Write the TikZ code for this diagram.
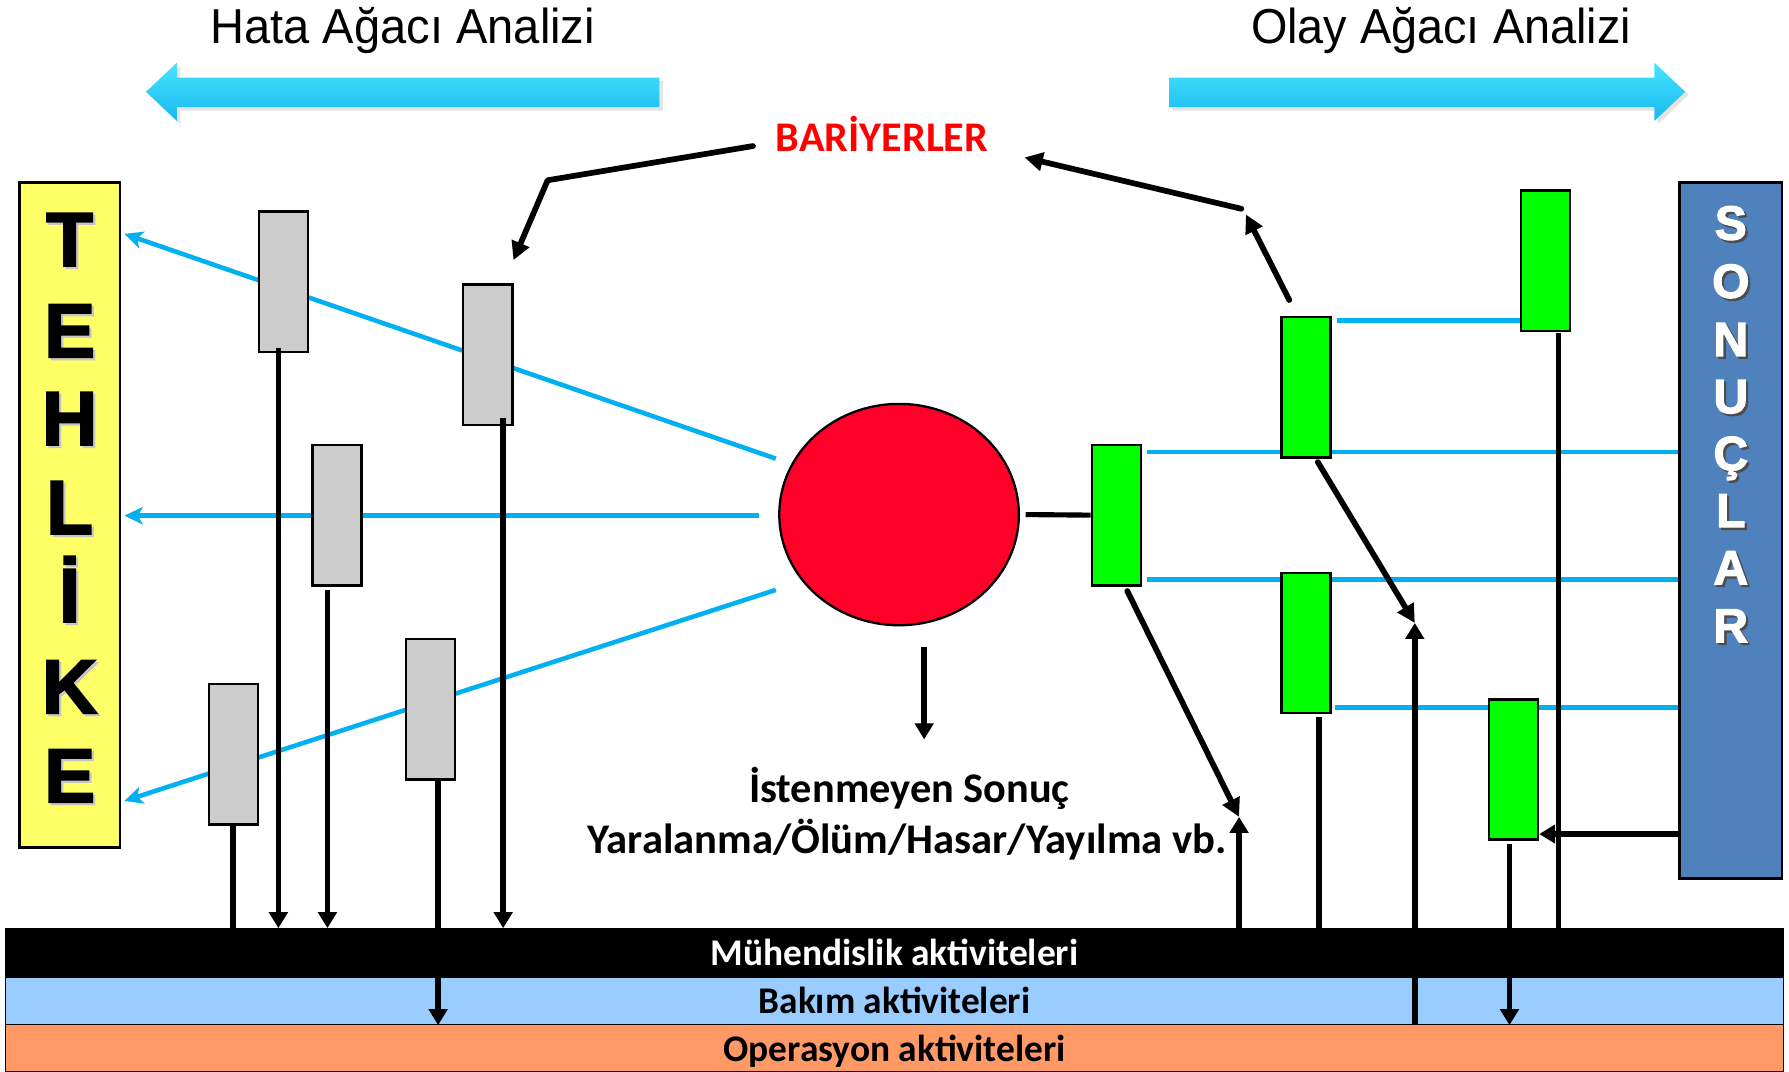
\documentclass[tikz,border=0pt]{standalone}
\usepackage{fontspec}
\usepackage{graphicx}
\usetikzlibrary{arrows.meta,shapes.geometric}
\newfontfamily\arialf{Liberation Sans}
\newfontfamily\blackf[BoldFeatures={FakeBold=2.5}]{Liberation Sans}
\newfontfamily\calf{Carlito}
\newcommand\fitw[2]{\resizebox{#1}{\height}{#2}}
\definecolor{lineblue}{HTML}{00B0F0}
\definecolor{boxgray}{HTML}{CCCCCC}
\definecolor{boxgreen}{HTML}{00FF00}
\definecolor{hazyellow}{HTML}{FFFF66}
\definecolor{eventred}{HTML}{FF0029}
\definecolor{sonucblue}{HTML}{4F81BD}
\definecolor{bakblue}{HTML}{99CCFF}
\definecolor{opsorange}{HTML}{FF9966}
\definecolor{arrlight}{HTML}{45E4FF}
\definecolor{arrmid}{HTML}{0AAEE6}
\definecolor{arrdark}{HTML}{1AB8EE}
\definecolor{barred}{HTML}{FF0000}
\begin{document}
\begin{tikzpicture}[x=1pt,y=-1pt,
  gbox/.style={draw=black,line width=2.2pt,fill=boxgray,minimum width=43pt,minimum height=123pt,inner sep=0pt},
  grbox/.style={draw=black,line width=2.2pt,fill=boxgreen,minimum width=43pt,minimum height=123pt,inner sep=0pt},
  band/.style={draw=black,line width=1pt,minimum width=1558pt,inner sep=0pt},
  bline/.style={draw=lineblue,line width=4pt},
  btip/.style={-{Stealth[length=16pt,width=15pt,inset=4pt]}},
  blk/.style={draw=black,line width=5pt},
  blkd/.style={draw=black,line width=5pt,line cap=round},
  ktip/.style={-{Triangle[length=14pt,width=16pt]}},
  kbig/.style={-{Triangle[length=16pt,width=16pt]}},
  bigarrow/.style={shading=axis,top color=arrlight,middle color=arrmid,bottom color=arrdark},
  haz/.style={anchor=base,inner sep=0pt,font=\blackf\bfseries\fontsize{67}{67}\selectfont},
  son/.style={anchor=base,inner sep=0pt,text=white,font=\blackf\bfseries\fontsize{42}{42}\selectfont}
]
\useasboundingbox (0,0) rectangle (1568,939);
\fill[white] (0,0) rectangle (1568,939);

% big analysis arrows
\fill[gray!35,opacity=0.6] (581,71) -- (158,71) -- (158,58) -- (131,83) -- (158,109) -- (158,97) -- (581,97) -- cycle;
\path[bigarrow] (578,68) -- (155,68) -- (155,55) -- (128,80.5) -- (155,106) -- (155,94) -- (578,94) -- cycle;
\fill[gray!35,opacity=0.6] (1028,71) -- (1453,71) -- (1453,58) -- (1480,83) -- (1453,109) -- (1453,97) -- (1028,97) -- cycle;
\path[bigarrow] (1025,68) -- (1450,68) -- (1450,55) -- (1477,80.5) -- (1450,106) -- (1450,94) -- (1025,94) -- cycle;

\node[anchor=base,inner sep=0pt] (thata) at (353,38) {\fitw{337pt}{\arialf\fontsize{43}{43}\selectfont Hata Ağacı Analizi}};
\node[anchor=base,inner sep=0pt] (tolay) at (1263,38) {\fitw{333pt}{\arialf\fontsize{43}{43}\selectfont Olay Ağacı Analizi}};

% named points
\coordinate (c1) at (680,402);
\coordinate (c2) at (665,452);
\coordinate (c3) at (680,517);
\coordinate (h1) at (109,205);
\coordinate (h2) at (109,452);
\coordinate (h3) at (109,702);

% left blue lines
\draw[bline,btip] (c1) -- (h1);
\draw[bline,btip] (c2) -- (h2);
\draw[bline,btip] (c3) -- (h3);

% right blue lines
\coordinate (r1a) at (1005,396);
\coordinate (r2a) at (1005,508);
\coordinate (r3a) at (1172,281);
\coordinate (r4a) at (1170,620);
\node[draw=black,line width=2.2pt,fill=sonucblue,minimum width=90pt,minimum height=610pt,inner sep=0pt] (sonuc) at (1517,465) {};
\draw[bline] (r1a) -- (r1a -| sonuc.west);
\draw[bline] (r2a) -- (r2a -| sonuc.west);
\draw[bline] (r3a) -- (1335,281);
\draw[bline] (r4a) -- (r4a -| sonuc.west);

% hazard box
\node[draw=black,line width=2.2pt,fill=hazyellow,minimum width=88pt,minimum height=583pt,inner sep=0pt] (hazard) at (61,451.5) {};

% barrier boxes
\node[gbox] (g1) at (248.5,247) {};
\node[gbox] (g2) at (427.5,311) {};
\node[gbox] (g3) at (295.5,451.5) {};
\node[gbox] (g4) at (377.5,621.5) {};
\node[gbox] (g5) at (204.5,661) {};
\node[grbox] (gr1) at (978.5,451.5) {};
\node[grbox] (gr2) at (1144.5,339.5) {};
\node[grbox] (gr3) at (1144.5,563.5) {};
\node[grbox] (gr4) at (1354.5,228.5) {};
\node[grbox] (gr5) at (1326.5,674.5) {};

% top event
\node[ellipse,draw=black,line width=2pt,fill=eventred,minimum width=210pt,minimum height=194pt,inner sep=0pt] (event) at (788,451) {};

% activity bands
\node[band,fill=black,minimum height=43pt] (eng) at (784,835.5) {};
\node[band,fill=bakblue,minimum height=41pt] (bak) at (784,877.5) {};
\node[band,fill=opsorange,minimum height=41pt] (ops) at (784,918.5) {};

% connector start points
\coordinate (v1) at (244,305);
\coordinate (v2) at (441,366);
\coordinate (v3) at (287,517);
\coordinate (v4) at (384,684);
\coordinate (v5) at (204,722);
\coordinate (w1) at (1086,716);
\coordinate (w2) at (1156,628);
\coordinate (w3) at (1240,546);
\coordinate (w4) at (1323,740);
\coordinate (w5) at (1366,292);

% left verticals
\draw[blk,ktip] (v1) -- (v1 |- eng.north);
\draw[blk,ktip] (v2) -- (v2 |- eng.north);
\draw[blk,ktip] (v3) -- (v3 |- eng.north);
\draw[blk,ktip] (v4) -- (v4 |- bak.south);
\draw[blk] (v5) -- (v5 |- eng.north);

% right verticals
\draw[blk,ktip] (w1 |- eng.north) -- (w1);
\draw[blk] (w2) -- (w2 |- eng.north);
\draw[blk,ktip] (w3 |- bak.south) -- (w3);
\draw[blk,ktip] (w4) -- (w4 |- bak.south);
\draw[blk] (w5) -- (w5 |- eng.north);

% event to first green barrier
\draw[draw=black,line width=4.5pt] ([xshift=5pt]event.east) -- (gr1.west);

% diagonal arrows
\coordinate (d1) at (988,518);
\coordinate (d2) at (1155,405);
\coordinate (d3) at (1130,263);
\coordinate (d3e) at (1092,188);
\draw[blkd,kbig] (d1) -- (w1);
\draw[blkd,kbig] (d2) -- (w3);
\draw[blkd,kbig] (d3) -- (d3e);

% from consequences to gr5
\coordinate (s1) at (1472,731);
\draw[blk,ktip] (s1) -- (gr5.east |- s1);

% down arrow from event
\coordinate (e1) at (810,567);
\coordinate (e2) at (810,648);
\draw[blk,ktip] (e1) -- (e2);

% BARIYERLER label and arrows
\node[anchor=base,inner sep=0pt] (bar) at (773,133) {\fitw{186pt}{\calf\bfseries\color{barred}\fontsize{37}{37}\selectfont BARİYERLER}};
\coordinate (b1) at (660,128);
\coordinate (b1m) at (480,158);
\coordinate (b1e) at (450,228);
\coordinate (b2) at (1088,183);
\coordinate (b2e) at (898,138);
\draw[blkd,line join=round,kbig] (b1) -- (b1m) -- (b1e);
\draw[blkd,kbig] (b2) -- (b2e);

% consequence text
\node[anchor=base,inner sep=0pt] (ist) at (797,703) {\fitw{281pt}{\calf\bfseries\fontsize{37}{37}\selectfont İstenmeyen Sonuç}};
\node[anchor=base,inner sep=0pt] (yar) at (795,748) {\fitw{560pt}{\calf\bfseries\fontsize{37}{37}\selectfont Yaralanma/Ölüm/Hasar/Yayılma vb.}};

% band labels
\node[anchor=base,inner sep=0pt] (leng) at (784,846) {\fitw{322pt}{\calf\bfseries\color{white}\fontsize{33}{33}\selectfont Mühendislik aktiviteleri}};
\node[anchor=base,inner sep=0pt] (lbak) at (784,888) {\fitw{238pt}{\calf\bfseries\fontsize{33}{33}\selectfont Bakım aktiviteleri}};
\node[anchor=base,inner sep=0pt] (lops) at (784,930) {\fitw{300pt}{\calf\bfseries\fontsize{33}{33}\selectfont Operasyon aktiviteleri}};

% TEHLIKE letters
\foreach \ch/\yy [count=\i] in {T/233,E/313,H/390,L/468,İ/545,K/625,E/703}{
  \node[haz,text=gray!45] (hs\i) at (63,\yy+2) {\ch};
  \node[haz] (hl\i) at (61,\yy) {\ch};
}
% SONUCLAR letters
\foreach \ch/\yy [count=\i] in {S/210,O/261,N/312,U/362,Ç/412,L/462,A/512,R/563}{
  \node[son,text=black!70] (ss\i) at (1519,\yy+2) {\ch};
  \node[son] (sl\i) at (1517,\yy) {\ch};
}
\end{tikzpicture}
\end{document}
